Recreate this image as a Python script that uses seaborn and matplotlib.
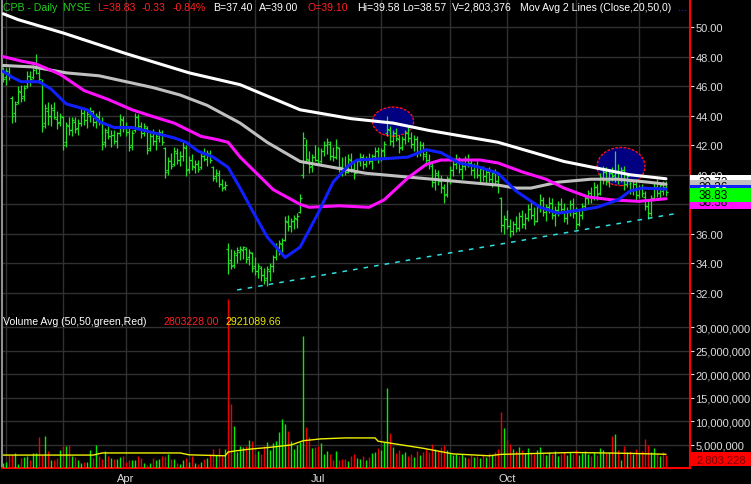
import numpy as np
import pandas as pd
import matplotlib
matplotlib.use('Agg')
import matplotlib.pyplot as plt
import matplotlib.transforms as mtrans
from matplotlib.patches import Ellipse, Rectangle
from matplotlib.ticker import FuncFormatter
import seaborn as sns

# --- data (CPB daily bars, 2018) ---
holidays = ['2018-02-19', '2018-03-30', '2018-05-28', '2018-07-04',
            '2018-09-03', '2018-11-22', '2018-12-05']
dates = pd.bdate_range('2018-01-31', '2018-12-17', freq='C', holidays=holidays)

opens = [46.8, 46.6, 46.9, 45.2, 44.2, 44.9, 45.6, 45.3, 46.0, 46.7,
         46.6, 47.2, 46.9, 46.3, 43.5, 44.3, 44.0, 44.4, 43.8, 43.6,
         43.9, 42.2, 43.3, 43.0, 43.6, 43.2, 43.5, 44.2, 43.7, 44.0,
         44.3, 43.6, 43.9, 43.5, 42.2, 42.9, 42.6, 42.7, 42.3, 42.8,
         43.7, 43.2, 42.9, 42.0, 43.0, 43.9, 43.3, 42.8, 43.2, 41.8,
         42.6, 42.3, 42.5, 42.8, 41.8, 40.3, 40.9, 40.7, 41.5, 41.0,
         41.3, 41.8, 40.4, 41.0, 40.5, 40.7, 40.5, 41.3, 41.1, 41.4,
         40.5, 39.9, 40.0, 39.4, 39.2, 35.0, 34.2, 33.9, 34.6, 34.8,
         34.9, 35.0, 34.4, 34.7, 33.8, 33.5, 33.7, 33.2, 33.0, 33.5,
         33.8, 34.4, 35.0, 35.3, 35.6, 36.8, 36.5, 36.9, 37.0, 37.5,
         40.0, 42.0, 41.0, 40.6, 41.2, 41.0, 40.9, 41.6, 42.0, 42.1,
         41.3, 41.2, 41.8, 40.5, 40.3, 40.2, 41.0, 40.4, 40.2, 40.9,
         41.2, 40.7, 41.1, 40.9, 41.3, 41.6, 41.1, 41.7, 42.8, 43.0,
         42.3, 42.8, 42.4, 41.9, 42.4, 42.8, 42.5, 42.1, 42.4, 41.5,
         42.0, 41.3, 41.0, 40.6, 39.5, 40.0, 39.6, 39.1, 38.7, 39.8,
         40.3, 40.7, 41.0, 40.4, 40.6, 41.1, 40.8, 40.3, 40.6, 40.0,
         40.4, 39.9, 40.2, 39.7, 40.1, 39.6, 38.4, 36.6, 37.0, 36.5,
         36.2, 36.7, 36.4, 37.2, 36.7, 37.1, 37.7, 37.3, 36.9, 37.8,
         38.3, 37.5, 37.8, 38.1, 37.3, 37.6, 38.0, 37.7, 37.1, 37.5,
         38.0, 37.4, 36.7, 37.3, 37.9, 38.4, 38.8, 38.4, 39.2, 38.8,
         39.8, 40.2, 39.6, 40.1, 40.0, 40.2, 39.7, 40.3, 39.4, 39.6,
         39.0, 39.4, 38.6, 39.1, 38.5, 37.9, 37.4, 38.4, 39.2, 38.8,
         38.9, 39.10]
highs = [47.3, 47.2, 47.3, 45.3, 45.0, 46.0, 46.1, 46.1, 47.0, 47.0,
         47.4, 48.2, 47.3, 46.5, 44.8, 44.9, 44.8, 44.9, 44.3, 44.2,
         44.0, 43.6, 43.9, 43.9, 43.9, 43.8, 44.6, 44.5, 44.3, 44.6,
         44.4, 44.2, 44.3, 43.9, 43.2, 43.4, 43.0, 43.0, 42.9, 44.1,
         44.0, 43.6, 43.3, 43.0, 44.2, 44.1, 43.6, 43.5, 43.3, 42.9,
         43.1, 42.8, 43.1, 43.0, 41.9, 41.2, 41.5, 41.9, 41.8, 41.6,
         42.2, 42.0, 41.3, 41.4, 41.0, 41.0, 41.6, 41.8, 41.7, 41.7,
         40.6, 40.4, 40.3, 39.7, 39.6, 35.4, 35.0, 34.9, 35.1, 35.2,
         35.2, 35.1, 35.0, 34.8, 34.4, 34.0, 33.8, 33.7, 33.8, 34.0,
         34.6, 35.4, 35.6, 35.7, 37.2, 37.3, 37.1, 37.3, 37.4, 38.7,
         42.9, 42.4, 41.6, 41.4, 42.0, 41.9, 41.8, 42.3, 42.5, 42.3,
         41.9, 42.4, 41.9, 41.2, 41.3, 41.4, 41.5, 40.9, 41.1, 41.5,
         41.4, 41.3, 41.5, 41.4, 41.9, 41.9, 41.8, 42.3, 44.0, 43.3,
         43.0, 43.2, 42.7, 42.6, 43.0, 43.3, 42.9, 42.7, 42.6, 42.3,
         42.2, 41.6, 41.4, 40.9, 40.4, 40.3, 40.0, 39.4, 39.9, 40.6,
         41.0, 41.4, 41.2, 40.9, 41.3, 41.4, 41.1, 40.8, 40.9, 40.6,
         40.6, 40.4, 40.5, 40.3, 40.4, 40.1, 38.5, 37.3, 37.6, 37.0,
         36.9, 37.2, 37.5, 37.6, 37.4, 38.0, 38.2, 37.8, 38.0, 38.7,
         38.5, 38.0, 38.5, 38.4, 37.9, 38.2, 38.4, 38.1, 37.8, 38.3,
         38.4, 37.8, 37.6, 38.1, 38.6, 39.0, 39.2, 39.5, 39.4, 40.1,
         40.6, 40.5, 40.4, 40.5, 41.6, 40.7, 40.5, 40.6, 40.1, 39.7,
         39.6, 39.7, 39.3, 39.4, 38.9, 38.3, 38.6, 39.5, 39.7, 39.5,
         39.6, 39.58]
lows = [46.3, 46.1, 46.4, 43.5, 43.6, 44.8, 44.9, 45.0, 45.9, 46.0,
        46.5, 46.8, 46.2, 42.9, 43.2, 43.4, 43.3, 43.8, 43.1, 43.3,
        41.7, 41.9, 42.7, 42.6, 42.8, 42.7, 43.3, 43.4, 43.2, 43.6,
        43.3, 43.2, 43.4, 41.7, 41.9, 42.4, 41.9, 42.1, 41.8, 42.6,
        42.9, 42.6, 41.6, 41.7, 42.9, 43.1, 42.5, 42.6, 41.4, 41.6,
        42.0, 41.7, 42.2, 42.0, 39.8, 40.0, 40.4, 40.6, 40.7, 40.6,
        40.9, 39.9, 40.1, 40.3, 40.1, 40.2, 40.4, 40.9, 40.6, 40.8,
        39.6, 39.5, 39.2, 38.9, 39.0, 33.3, 33.6, 33.7, 34.0, 34.2,
        34.3, 34.0, 33.9, 33.4, 33.2, 33.0, 32.8, 32.6, 32.5, 32.8,
        33.4, 34.2, 34.6, 34.8, 35.5, 36.2, 36.1, 36.3, 36.4, 37.4,
        39.8, 40.8, 40.1, 40.2, 40.9, 40.7, 40.8, 41.3, 41.4, 41.0,
        40.9, 41.1, 40.2, 39.9, 40.0, 40.1, 40.2, 39.7, 40.1, 40.6,
        40.4, 40.5, 40.7, 40.4, 41.0, 40.8, 40.9, 41.2, 42.6, 42.0,
        41.9, 42.3, 41.5, 41.7, 42.1, 42.2, 41.8, 41.6, 41.2, 41.3,
        41.0, 40.6, 40.4, 39.2, 39.0, 39.3, 38.8, 38.1, 38.5, 39.4,
        39.9, 40.4, 40.1, 39.7, 40.3, 40.5, 40.0, 39.8, 39.8, 39.5,
        39.6, 39.4, 39.5, 39.2, 39.3, 38.8, 36.1, 36.0, 36.3, 35.8,
        35.9, 36.1, 36.2, 36.4, 36.3, 36.9, 37.0, 36.6, 36.8, 37.5,
        37.2, 36.9, 37.4, 37.0, 36.5, 37.2, 37.4, 36.8, 36.7, 37.2,
        37.1, 36.3, 36.5, 37.0, 37.6, 38.0, 38.1, 38.3, 38.3, 38.6,
        39.4, 39.3, 39.2, 39.6, 39.5, 39.4, 39.5, 39.0, 39.2, 38.7,
        38.6, 38.3, 38.4, 38.5, 37.6, 37.0, 37.2, 38.3, 38.5, 38.4,
        38.6, 38.57]
closes = [46.5, 47.0, 46.6, 44.0, 44.8, 45.7, 45.2, 45.9, 46.7, 46.5,
          47.1, 47.3, 46.5, 43.3, 44.5, 44.0, 44.5, 43.9, 43.5, 44.0,
          42.0, 43.4, 43.0, 43.7, 43.1, 43.5, 44.2, 43.7, 44.1, 44.3,
          43.6, 44.0, 43.6, 42.1, 43.0, 42.6, 42.7, 42.3, 42.8, 43.8,
          43.2, 42.9, 41.9, 42.8, 43.9, 43.3, 42.8, 43.3, 41.7, 42.6,
          42.3, 42.6, 42.9, 42.2, 40.2, 40.9, 40.6, 41.6, 41.0, 41.3,
          41.9, 40.3, 41.0, 40.6, 40.7, 40.4, 41.3, 41.1, 41.5, 41.0,
          39.8, 40.1, 39.4, 39.1, 39.3, 34.0, 33.8, 34.7, 34.9, 35.0,
          35.1, 34.3, 34.8, 33.7, 33.5, 33.8, 33.2, 32.9, 33.6, 33.8,
          34.4, 35.1, 35.4, 35.6, 36.9, 36.5, 36.9, 37.1, 37.2, 38.4,
          42.5, 41.1, 40.5, 41.2, 41.0, 40.8, 41.6, 42.0, 42.2, 41.3,
          41.2, 41.9, 40.5, 40.3, 40.2, 41.1, 40.4, 40.1, 40.9, 41.2,
          40.7, 41.1, 40.9, 41.3, 41.6, 41.1, 41.6, 42.1, 43.1, 42.3,
          42.8, 42.5, 41.8, 42.4, 42.8, 42.5, 42.1, 42.4, 41.5, 42.0,
          41.4, 41.0, 40.7, 39.5, 40.1, 39.6, 39.2, 38.6, 39.7, 40.3,
          40.7, 41.0, 40.4, 40.6, 41.1, 40.8, 40.3, 40.6, 40.0, 40.4,
          39.9, 40.2, 39.7, 40.1, 39.6, 39.3, 36.6, 37.0, 36.5, 36.2,
          36.7, 36.4, 37.2, 36.7, 37.1, 37.7, 37.3, 36.9, 37.8, 38.3,
          37.5, 37.8, 38.1, 37.3, 37.6, 38.0, 37.7, 37.1, 37.5, 38.0,
          37.4, 36.7, 37.3, 37.9, 38.4, 38.8, 38.4, 39.2, 38.7, 39.8,
          40.2, 39.6, 40.1, 39.9, 40.2, 39.7, 40.3, 39.4, 39.9, 39.0,
          39.4, 38.6, 39.1, 38.8, 37.9, 37.4, 38.4, 39.2, 38.8, 39.3,
          39.16, 38.83]

# daily volume, millions of shares
volume_m = [1.1, 1.2, 2.8, 2.8, 3.2, 0.9, 2.2, 2.4, 2.6, 1.8,
            3.2, 3.2, 6.5, 2.8, 6.9, 3.6, 1.7, 1.6, 2.2, 3.9,
            4.6, 4.6, 4.8, 2.6, 2.4, 1.6, 1.1, 1.3, 1.3, 3.9,
            2.2, 5.0, 2.6, 2.0, 3.6, 2.5, 2.2, 2.0, 2.0, 2.4,
            2.5, 1.3, 1.8, 1.8, 1.6, 2.5, 2.2, 1.0, 0.6, 1.0,
            2.2, 1.6, 1.9, 2.5, 2.6, 2.9, 1.9, 1.9, 1.1, 0.9,
            1.6, 2.2, 1.3, 2.5, 1.0, 0.9, 1.3, 1.9, 2.2, 2.9,
            4.0, 2.8, 4.2, 2.6, 4.0, 36.0, 13.6, 8.9, 3.3, 4.75,
            4.4, 4.75, 6.0, 5.7, 2.95, 3.7, 2.95, 4.75, 5.6, 3.9,
            5.3, 5.8, 7.6, 10.4, 9.4, 7.8, 5.8, 4.0, 5.0, 5.6,
            28.1, 8.7, 6.7, 4.2, 4.4, 4.6, 5.3, 3.0, 3.7, 3.0,
            1.6, 3.7, 1.7, 1.9, 1.9, 1.4, 2.5, 3.0, 2.2, 2.0,
            2.6, 1.8, 2.4, 3.1, 3.5, 4.2, 3.8, 5.5, 17.0, 7.5,
            4.5, 3.2, 3.8, 2.9, 3.4, 2.6, 3.0, 2.4, 3.6, 2.8,
            3.3, 4.1, 3.5, 5.2, 4.0, 3.6, 4.4, 5.0, 3.8, 3.2,
            2.7, 3.0, 2.5, 2.9, 2.4, 2.1, 2.8, 2.3, 2.6, 2.2,
            2.9, 2.4, 3.1, 2.7, 3.3, 4.0, 12.0, 8.5, 6.0, 5.2,
            4.1, 3.6, 4.5, 3.9, 3.2, 4.2, 3.5, 3.0, 3.8, 4.4,
            3.1, 2.8, 3.4, 3.0, 3.7, 2.6, 2.9, 3.3, 2.7, 3.5,
            3.0, 3.9, 2.8, 3.2, 3.6, 2.9, 2.5, 3.4, 2.7, 4.3,
            3.8, 3.1, 3.5, 6.8, 7.2, 3.9, 1.8, 4.6, 3.4, 3.7,
            2.9, 4.0, 3.2, 3.6, 6.1, 4.8, 3.5, 4.2, 3.0, 2.6,
            3.3, 2.8]

# moving averages read at a few trading-day numbers (day 0 = first bar)
ma200_day = [0, 5, 20, 41, 62, 79, 99, 116, 130, 142, 165, 187, 209, 221]
ma200 = [50.9, 50.5, 49.6, 48.2, 46.9, 46.1, 44.4, 43.8, 43.5, 43.0, 42.2, 40.9, 40.0, 39.73]
ma100_day = [0, 10, 21, 32, 41, 50, 59, 68, 79, 88, 99, 110, 121, 132, 143, 154,
             165, 171, 176, 185, 196, 205, 215, 221]
ma100 = [47.4, 47.3, 46.9, 46.7, 46.3, 45.9, 45.4, 44.7, 43.5, 42.2, 40.9, 40.5,
         40.1, 39.9, 39.7, 39.5, 39.3, 39.1, 39.1, 39.5, 39.7, 39.7, 39.5, 39.36]
ma50_day = [0, 6, 11, 19, 27, 35, 43, 49, 57, 66, 71, 75, 79, 82, 90, 99, 102,
            112, 122, 127, 135, 141, 146, 159, 165, 173, 181, 187, 195, 203, 212, 221]
ma50 = [48.0, 47.7, 47.5, 46.8, 45.7, 45.1, 44.4, 44.0, 43.5, 42.6, 42.4, 42.2,
        41.2, 40.6, 39.0, 38.0, 37.8, 37.9, 37.8, 38.3, 39.8, 40.7, 41.0, 41.0,
        40.8, 40.2, 39.7, 39.1, 38.5, 38.3, 38.2, 38.38]
ma20_day = [0, 3, 6, 12, 16, 21, 28, 32, 37, 43, 49, 57, 61, 65, 70, 75, 79, 83,
            88, 94, 99, 105, 110, 115, 118, 128, 135, 141, 146, 152, 159, 165, 171,
            179, 185, 192, 198, 205, 209, 213, 221]
ma20 = [47.0, 46.6, 46.3, 46.3, 45.8, 44.8, 44.4, 43.6, 43.2, 43.2, 42.9, 42.5,
        42.2, 41.6, 41.2, 40.5, 39.1, 37.6, 35.8, 34.4, 35.1, 37.4, 39.5, 40.6,
        41.0, 41.1, 41.2, 41.7, 41.5, 40.8, 40.5, 40.1, 38.9, 37.8, 37.4, 37.6,
        37.8, 38.3, 38.9, 39.1, 39.03]
# 50-day volume average (millions)
vol_avg_day = [0, 30, 33, 59, 62, 74, 75, 77, 82, 89, 96, 100, 106, 114, 124, 125,
               140, 150, 162, 166, 190, 210, 221]
vol_avg_m = [2.75, 2.75, 3.2, 3.2, 2.8, 2.6, 3.4, 3.6, 4.0, 4.4, 4.9, 5.8, 6.2, 6.4,
             6.4, 5.7, 4.2, 3.0, 2.6, 2.9, 3.3, 3.1, 2.92]

# support trendline and highlighted areas
trend_day = [78, 225]
trend_price = [32.2, 37.4]
highlights = [(130, 43.6, 13.7, 1.97), (206, 40.56, 16.0, 2.58)]  # day, price, width, height

# --- style ---
sns.set_style('dark')
plt.rcParams.update({
    'figure.facecolor': 'black', 'axes.facecolor': 'black',
    'savefig.facecolor': 'black', 'font.size': 8,
})
plt.rcParams['font.family'] = ['Liberation Sans', 'DejaVu Sans']

W, H = 751, 485
GRID = '#303030'
LABEL = '#dcdcdc'
BAR_GREEN = '#22e022'


def px_box(left, top, right, bottom):
    return [left / W, 1 - bottom / H, (right - left) / W, (bottom - top) / H]


fig = plt.figure(figsize=(W / 100, H / 100), dpi=100)
ax = fig.add_axes(px_box(2, 0, 690, 300))
axv = fig.add_axes(px_box(2, 300, 690, 469), sharex=ax)

day = np.arange(len(dates))
volume = np.array(volume_m) * 1e6

# --- price panel ---
ax.vlines(day, lows, highs, color=BAR_GREEN, lw=0.9, zorder=3)
ax.hlines(opens, day - 0.6, day, color=BAR_GREEN, lw=0.9, zorder=3)
ax.hlines(closes, day, day + 0.6, color=BAR_GREEN, lw=0.9, zorder=3)

for d, p, w, h in highlights:
    ax.add_patch(Ellipse((d, p), w, h, facecolor='#000080', edgecolor='#ff1010',
                         lw=1.0, ls=(0, (2, 1)), zorder=1.8))

sns.lineplot(x=ma200_day, y=ma200, ax=ax, color='white', lw=2.2, zorder=4)
sns.lineplot(x=ma100_day, y=ma100, ax=ax, color='#c0c0c0', lw=2.2, zorder=4)
sns.lineplot(x=ma50_day, y=ma50, ax=ax, color='#ff10ff', lw=2.2, zorder=4)
sns.lineplot(x=ma20_day, y=ma20, ax=ax, color='#1020ff', lw=2.2, zorder=5)
sns.lineplot(x=trend_day, y=trend_price, ax=ax, color='#30e0e0', lw=1.1,
             linestyle=(0, (3, 4)), zorder=4)

ax.set_xlim(-0.4, 229)
ax.set_ylim(31.59, 51.9)
ax.set_yticks(np.arange(32, 51, 2))
ax.yaxis.set_major_formatter(FuncFormatter(lambda v, p: f'{v:.2f}'))
ax.yaxis.tick_right()
ax.tick_params(axis='y', colors=LABEL, labelcolor=LABEL, length=3, width=0.8,
               pad=1, labelsize=8)
ax.tick_params(axis='x', which='both', length=0, labelbottom=False)
ax.set_xlabel('')
ax.set_ylabel('')

# month gridlines / ticks
s = pd.Series(day, index=dates)
month_first = s.groupby(s.index.month).min()
month_first = month_first[month_first.index > 1]
major_months = [4, 7, 10]
major = [month_first[m] for m in major_months]
minor = [month_first[m] for m in month_first.index if m not in major_months]

for a in (ax, axv):
    a.set_xticks(major)
    a.set_xticks(minor, minor=True)
    a.grid(True, which='both', color=GRID, lw=1.0)
    a.set_axisbelow(True)
    for side in ('top', 'bottom', 'left', 'right'):
        a.spines[side].set_visible(False)
    a.spines['right'].set_visible(True)
    a.spines['right'].set_color('#ff0000')
    a.spines['right'].set_linewidth(1.5)
    a.spines['left'].set_visible(True)
    a.spines['left'].set_color('#909090')
    a.spines['left'].set_linewidth(1.5)

# --- volume panel ---
vol_colors = ['#00ee00'] + ['#00ee00' if c >= p else '#ee0000'
                            for p, c in zip(closes[:-1], closes[1:])]
axv.vlines(day, 0, volume, colors=vol_colors, lw=1.0, zorder=3)
sns.lineplot(x=vol_avg_day, y=np.array(vol_avg_m) * 1e6, ax=axv, color='#f0f000',
             lw=1.0, zorder=4)
axv.set_ylim(0, 35.96e6)
axv.set_yticks(np.arange(5e6, 31e6, 5e6))
axv.yaxis.set_major_formatter(FuncFormatter(lambda v, p: f'{int(v):,}'))
axv.yaxis.tick_right()
axv.tick_params(axis='y', colors=LABEL, labelcolor=LABEL, length=3, width=0.8,
                pad=1, labelsize=8)
axv.spines['bottom'].set_visible(True)
axv.spines['bottom'].set_color('#ff0000')
axv.spines['bottom'].set_linewidth(1.5)
axv.set_xticklabels([dates[i].strftime('%b') for i in major])
axv.tick_params(axis='x', which='major', colors='#ff0000', labelcolor=LABEL,
                length=3, width=1, pad=0.5, labelsize=8)
axv.tick_params(axis='x', which='minor', colors='#ff0000', length=2, width=1)
axv.set_xlabel('')
axv.set_ylabel('')

# --- value tags on the right edge ---
tag_tr = mtrans.blended_transform_factory(ax.transAxes, ax.transData)
tags = [(ma200[-1], 'white', 'black'), (ma100[-1], '#c0c0c0', 'black'),
        (ma20[-1], '#1020ff', 'white'), (ma50[-1], '#ff10ff', 'black'),
        (closes[-1], '#00ff00', 'black')]
tag_h = 0.95
for k, (v, fc, tc) in enumerate(tags):
    ax.add_patch(Rectangle((1.0, v - tag_h / 2 - 0.2), 0.09, tag_h, transform=tag_tr,
                           facecolor=fc, edgecolor='none', clip_on=False, zorder=10 + k))
    ax.text(1.012, v - 0.2, f'{v:.2f}', transform=tag_tr, color=tc, fontsize=8.5,
            va='center', ha='left', zorder=10 + k, clip_on=False)

vtag_tr = mtrans.blended_transform_factory(axv.transAxes, axv.transData)
axv.add_patch(Rectangle((1.0, 0.4e6), 0.09, 3.0e6, transform=vtag_tr,
                        facecolor='#ff0000', edgecolor='none', clip_on=False, zorder=10))
axv.text(1.01, 1.9e6, '2,803,228', transform=vtag_tr, color='#800000', fontsize=8,
         va='center', ha='left', zorder=11, clip_on=False)

# --- header texts ---
header = [(3, 'CPB - Daily', '#20d020'), (62, 'NYSE', '#20d020'),
          (97, 'L=38.83', '#ff2020'), (142, '-0.33', '#ff2020'),
          (173, '-0.84%', '#ff2020'), (213, 'B=37.40', 'white'),
          (259, 'A=39.00', 'white'), (307, 'O=39.10', '#ff2020'),
          (357, 'Hi=39.58', 'white'), (402, 'Lo=38.57', 'white'),
          (452, 'V=2,803,376', 'white'), (520, 'Mov Avg 2 Lines (Close,20,50,0)', 'white'),
          (678, '...', '#3030ff')]
for x, txt, col in header:
    fig.text(x / W, 1 - 8 / H, txt, color=col, fontsize=7.6, va='center', ha='left')

vol_header = [(3, 'Volume Avg (50,50,green,Red)', 'white'),
              (163, '2803228.00', '#ff2020'), (225, '2921089.66', '#e8e800')]
for x, txt, col in vol_header:
    fig.text(x / W, 1 - 322 / H, txt, color=col, fontsize=7.6, va='center', ha='left')

fig.savefig('out.png', dpi=100, facecolor='black')
